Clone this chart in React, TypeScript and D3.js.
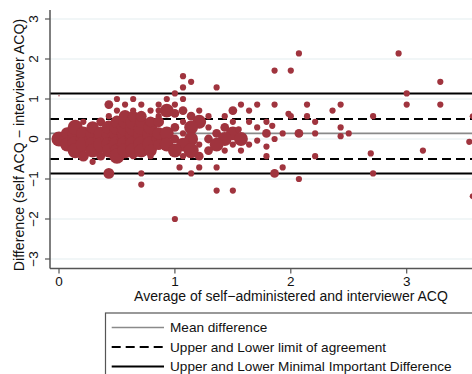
import React from "react";
import * as d3 from "d3";

// [average, difference, count]
const clusterPts = [
  [0, 0, 6], [0, 1.08, 0.05],
  [0.07, 0, 7], [0.07, 0.14, 4], [0.07, -0.14, 5],
  [0.14, 0, 7], [0.14, 0.14, 6], [0.14, -0.14, 7], [0.14, 0.29, 6], [0.14, -0.29, 6],
  [0.21, 0, 6], [0.21, 0.14, 5], [0.21, -0.14, 6], [0.21, 0.43, 1], [0.21, -0.43, 3],
  [0.29, 0, 7], [0.29, 0.14, 6], [0.29, -0.14, 6], [0.29, 0.29, 4], [0.29, -0.29, 5], [0.29, -0.57, 1],
  [0.36, 0, 6], [0.36, 0.14, 5], [0.36, -0.14, 6], [0.36, 0.43, 2], [0.36, -0.43, 2],
  [0.43, 0, 7], [0.43, 0.14, 6], [0.43, -0.14, 6], [0.43, 0.29, 5], [0.43, -0.29, 5], [0.43, 0.57, 1], [0.43, 0.86, 2], [0.43, -0.86, 3],
  [0.5, 0, 7], [0.5, 0.14, 7], [0.5, -0.14, 7], [0.5, 0.29, 6], [0.5, -0.29, 5], [0.5, 0.43, 4], [0.5, -0.43, 6], [0.5, 0.71, 1], [0.5, 1, 1],
  [0.57, 0, 7], [0.57, 0.14, 7], [0.57, -0.14, 7], [0.57, 0.29, 7], [0.57, -0.29, 6], [0.57, 0.43, 5], [0.57, 0.57, 4], [0.57, 0.86, 1],
  [0.64, 0, 7], [0.64, 0.14, 7], [0.64, -0.14, 7], [0.64, 0.29, 7], [0.64, -0.29, 6], [0.64, 0.43, 6], [0.64, 0.57, 3], [0.64, -0.43, 1], [0.64, 0.71, 1], [0.64, 1, 1],
  [0.71, 0, 7], [0.71, 0.14, 7], [0.71, -0.14, 7], [0.71, 0.29, 6], [0.71, -0.29, 5], [0.71, 0.43, 4], [0.71, 0.57, 3], [0.71, 0.86, 1], [0.71, -0.86, 1], [0.71, -1.14, 1],
  [0.79, 0, 7], [0.79, 0.14, 7], [0.79, -0.14, 7], [0.79, 0.29, 5], [0.79, -0.29, 4], [0.79, 0.43, 3], [0.79, -0.43, 1], [0.79, 0.71, 1],
  [0.86, 0, 5], [0.86, 0.14, 4], [0.86, -0.14, 3], [0.86, 0.43, 3], [0.86, 0.57, 1], [0.86, 0.71, 1], [0.86, 0.86, 1],
  [0.93, 0.14, 5], [0.93, -0.14, 5], [0.93, 0.71, 5], [0.93, 1, 1],
];

const spreadPts = [
  [1.07, 1.57, 1], [1.14, 1.43, 1], [1.07, 1.29, 1], [1.36, 1.29, 1], [1.0, 1.14, 1],
  [1.07, 1.0, 1], [1.0, 0.86, 1], [1.0, 0.64, 2], [1.07, 0.71, 2], [1.21, 0.71, 1],
  [1.5, 0.71, 2], [1.57, 0.86, 1], [1.14, 0.57, 2], [1.29, 0.57, 1], [1.43, 0.57, 1],
  [1.07, 0.43, 1], [1.21, 0.43, 5], [1.5, 0.43, 1], [1.0, 0.29, 2], [1.14, 0.29, 5],
  [1.29, 0.29, 1], [1.43, 0.29, 2], [1.07, 0.14, 1], [1.36, 0.14, 2], [1.5, 0.14, 5],
  [1.0, 0, 2], [1.14, 0, 5], [1.29, 0, 2], [1.43, 0, 5], [1.57, 0, 5],
  [1.07, -0.14, 5], [1.21, -0.14, 1], [1.36, -0.14, 5], [1.0, -0.29, 5], [1.14, -0.29, 6],
  [1.29, -0.29, 2], [1.43, -0.29, 1], [1.57, -0.29, 1], [1.21, -0.43, 2], [1.07, -0.43, 1],
  [1.04, -0.71, 1], [1.21, -0.71, 1], [1.36, -0.71, 1], [1.14, -0.86, 1], [1.36, -1.29, 1],
  [1.5, -1.29, 1], [1.0, -2.0, 1],
  [1.64, 0.71, 1], [1.71, 0.86, 1], [1.86, 0.86, 1], [1.98, 0.63, 1], [2.0, 0.57, 1],
  [2.14, 0.86, 1], [2.14, 0.57, 1], [1.64, 0.43, 1], [1.79, 0.43, 1], [1.84, 0.33, 1],
  [1.71, 0.29, 1], [1.55, 0.24, 1], [1.79, 0.14, 2], [1.93, 0.14, 1], [2.07, 0.14, 2],
  [1.86, 0, 1], [1.71, -0.04, 1], [1.64, -0.14, 1], [1.5, -0.14, 1], [1.79, -0.19, 1],
  [1.79, -0.43, 1], [1.86, -0.86, 2], [1.93, -0.71, 1], [2.07, -1.0, 1],
  [1.86, 1.71, 1], [2.0, 1.71, 1],
  [2.07, 2.14, 1], [2.93, 2.14, 1], [3.29, 1.43, 1], [3.0, 1.14, 1], [3.0, 0.86, 1],
  [3.29, 0.86, 1], [2.43, 0.86, 1], [2.36, 0.71, 1], [2.71, 0.57, 1], [3.57, 0.57, 1],
  [2.21, 0.43, 1], [2.43, 0.29, 1], [2.21, 0.14, 1], [2.43, 0.07, 1], [2.5, 0.14, 1],
  [3.54, -0.07, 1], [3.14, -0.29, 1], [2.69, -0.36, 1], [2.21, -0.43, 1], [2.71, -0.86, 1],
  [3.57, -1.43, 1],
];

const xTicks = [0, 1, 2, 3];
const yTicks = [-3, -2, -1, 0, 1, 2, 3];
const meanDiff = 0.14;
const limitsOfAgreement = [0.5, -0.5];
const minimalDiff = [1.14, -0.86];

const legendItems = [
  { label: "Mean difference", kind: "mean" },
  { label: "Upper and Lower limit of agreement", kind: "loa" },
  { label: "Upper and Lower Minimal Important Difference", kind: "mid" },
];

const fmt = (v: number) => (v < 0 ? "\u2212" + Math.abs(v) : String(v));

export default function App() {
  const width = 472;
  const height = 374;
  const left = 50;
  const bottom = 268.5;

  const x = d3.scaleLinear().domain([0, 3]).range([59, 406.7]);
  const y = d3.scaleLinear().domain([-3, 3]).range([259, 19]);
  const r = d3.scaleSqrt().domain([0, 1]).range([0, 3.1]);

  const red = "#a0343e";
  const font = "'Liberation Sans', Arial, sans-serif";
  const points = [...clusterPts, ...spreadPts];

  const lineStyle = (kind: string) =>
    kind === "mean"
      ? { stroke: "#8a8a8a", strokeWidth: 1.6 }
      : kind === "loa"
      ? { stroke: "#000", strokeWidth: 2, strokeDasharray: "9,5" }
      : { stroke: "#000", strokeWidth: 2 };

  return (
    <svg
      width={width}
      height={height}
      style={{ position: "absolute", left: 0, top: 0, background: "#fff" }}
      fontFamily={font}
    >
      {/* grid */}
      {yTicks.map((t) => (
        <line key={"g" + t} x1={left} x2={width} y1={y(t)} y2={y(t)} stroke="#e3edf0" strokeWidth={1.2} />
      ))}

      {/* reference lines */}
      <line x1={left} x2={width} y1={y(meanDiff)} y2={y(meanDiff)} {...lineStyle("mean")} />
      {limitsOfAgreement.map((v) => (
        <line key={"l" + v} x1={left} x2={width} y1={y(v)} y2={y(v)} {...lineStyle("loa")} />
      ))}
      {minimalDiff.map((v) => (
        <line key={"m" + v} x1={left} x2={width} y1={y(v)} y2={y(v)} {...lineStyle("mid")} />
      ))}

      {/* points */}
      {points.map((p, i) => (
        <circle key={i} cx={x(p[0])} cy={y(p[1])} r={r(p[2])} fill={red} />
      ))}

      {/* axes */}
      <line x1={left} x2={left} y1={10} y2={bottom} stroke="#555" strokeWidth={1.5} />
      <line x1={left} x2={width} y1={bottom} y2={bottom} stroke="#555" strokeWidth={1.5} />
      {yTicks.map((t) => (
        <g key={"y" + t}>
          <line x1={left - 5} x2={left} y1={y(t)} y2={y(t)} stroke="#555" strokeWidth={1.2} />
          <text
            transform={`translate(38,${y(t)}) rotate(-90)`}
            textAnchor="middle"
            fontSize={13.5}
            fill="#111"
          >
            {fmt(t)}
          </text>
        </g>
      ))}
      {xTicks.map((t) => (
        <g key={"x" + t}>
          <line x1={x(t)} x2={x(t)} y1={bottom} y2={bottom + 5} stroke="#555" strokeWidth={1.2} />
          <text x={x(t)} y={286} textAnchor="middle" fontSize={13.5} fill="#111">
            {fmt(t)}
          </text>
        </g>
      ))}

      <text
        transform={`translate(23.5,145) rotate(-90)`}
        textAnchor="middle"
        fontSize={14.2}
        fill="#111"
      >
        Difference (self ACQ {"\u2212"} interviewer ACQ)
      </text>
      <text x={291} y={301} textAnchor="middle" fontSize={14} fill="#111">
        Average of self{"\u2212"}administered and interviewer ACQ
      </text>

      {/* legend */}
      <rect x={105.5} y={313} width={400} height={80} fill="#fff" stroke="#555" strokeWidth={1.2} />
      {legendItems.map((d, i) => {
        const ly = 327.5 + i * 19.5;
        return (
          <g key={d.kind}>
            <line x1={111.7} x2={164} y1={ly} y2={ly} {...lineStyle(d.kind)} />
            <text x={170} y={ly + 4.6} fontSize={13.6} fill="#111">
              {d.label}
            </text>
          </g>
        );
      })}
    </svg>
  );
}
